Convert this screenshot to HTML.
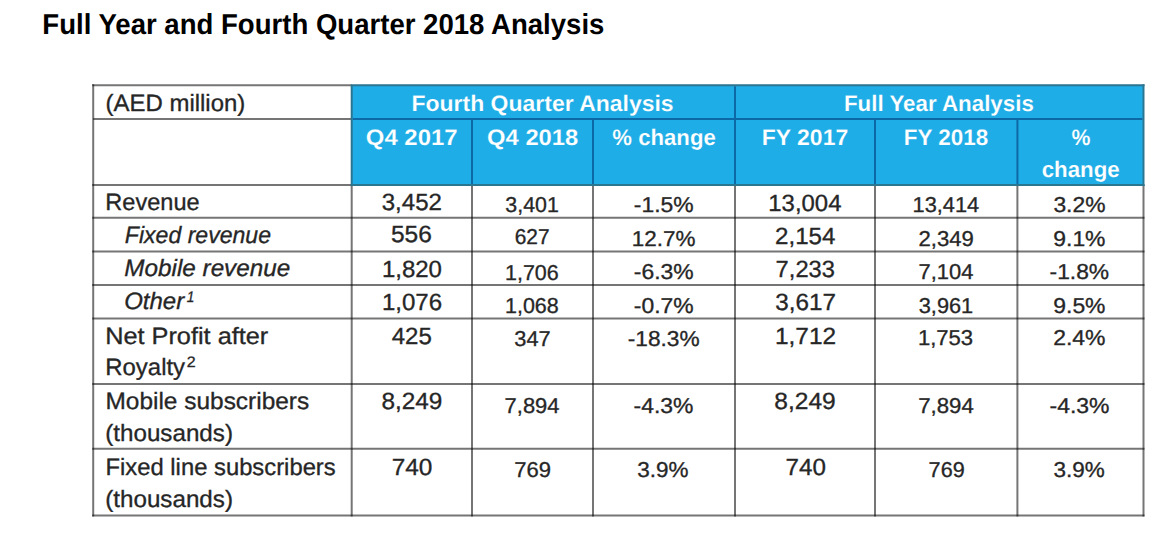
<!DOCTYPE html>
<html><head><meta charset="utf-8"><title>Full Year and Fourth Quarter 2018 Analysis</title>
<style>html,body{margin:0;padding:0;background:#fff;width:1172px;height:546px;overflow:hidden}svg{display:block}</style>
</head><body>
<svg width="1172" height="546" viewBox="0 0 1172 546" font-family="'Liberation Sans', Arial, sans-serif" text-rendering="geometricPrecision">
<rect width="1172" height="546" fill="#fff"/>
<rect x="351.7" y="85.3" width="791.8" height="99.7" fill="#1eade7"/>
<defs><filter id="soft" x="-5%" y="-5%" width="110%" height="110%"><feGaussianBlur stdDeviation="0.55"/></filter></defs>
<g filter="url(#soft)"><line x1="92.2" y1="85.3" x2="351.7" y2="85.3" stroke="rgba(0,0,0,0.54)" stroke-width="2"/>
<line x1="93.2" y1="119" x2="351.7" y2="119" stroke="rgba(0,0,0,0.54)" stroke-width="2"/>
<line x1="92.2" y1="217.8" x2="1144.5" y2="217.8" stroke="rgba(0,0,0,0.54)" stroke-width="2"/>
<line x1="92.2" y1="251.5" x2="1144.5" y2="251.5" stroke="rgba(0,0,0,0.54)" stroke-width="2"/>
<line x1="92.2" y1="284.9" x2="1144.5" y2="284.9" stroke="rgba(0,0,0,0.54)" stroke-width="2"/>
<line x1="92.2" y1="318.5" x2="1144.5" y2="318.5" stroke="rgba(0,0,0,0.54)" stroke-width="2"/>
<line x1="92.2" y1="384" x2="1144.5" y2="384" stroke="rgba(0,0,0,0.54)" stroke-width="2"/>
<line x1="92.2" y1="448.7" x2="1144.5" y2="448.7" stroke="rgba(0,0,0,0.54)" stroke-width="2"/>
<line x1="92.2" y1="515.5" x2="1144.5" y2="515.5" stroke="rgba(0,0,0,0.54)" stroke-width="2"/>
<line x1="92.2" y1="185" x2="351.7" y2="185" stroke="rgba(0,0,0,0.54)" stroke-width="2"/>
<line x1="93.2" y1="84.3" x2="93.2" y2="516.5" stroke="rgba(0,0,0,0.54)" stroke-width="2"/>
<line x1="351.7" y1="185" x2="351.7" y2="516.5" stroke="rgba(0,0,0,0.54)" stroke-width="2"/>
<line x1="472" y1="185" x2="472" y2="516.5" stroke="rgba(0,0,0,0.54)" stroke-width="2"/>
<line x1="593" y1="185" x2="593" y2="516.5" stroke="rgba(0,0,0,0.54)" stroke-width="2"/>
<line x1="735" y1="185" x2="735" y2="516.5" stroke="rgba(0,0,0,0.54)" stroke-width="2"/>
<line x1="875" y1="185" x2="875" y2="516.5" stroke="rgba(0,0,0,0.54)" stroke-width="2"/>
<line x1="1017.4" y1="185" x2="1017.4" y2="516.5" stroke="rgba(0,0,0,0.54)" stroke-width="2"/>
<line x1="1143.5" y1="185" x2="1143.5" y2="516.5" stroke="rgba(0,0,0,0.54)" stroke-width="2"/>
<line x1="352.7" y1="119" x2="1142.5" y2="119" stroke="#0f68a6" stroke-width="2"/>
<line x1="472" y1="119" x2="472" y2="184" stroke="#0f68a6" stroke-width="2"/>
<line x1="593" y1="119" x2="593" y2="184" stroke="#0f68a6" stroke-width="2"/>
<line x1="875" y1="119" x2="875" y2="184" stroke="#0f68a6" stroke-width="2"/>
<line x1="1017.4" y1="119" x2="1017.4" y2="184" stroke="#0f68a6" stroke-width="2"/>
<line x1="735" y1="86.3" x2="735" y2="184" stroke="#0f68a6" stroke-width="2"/>
<line x1="350.7" y1="85.3" x2="1144.5" y2="85.3" stroke="#2c7490" stroke-width="2"/>
<line x1="350.7" y1="185" x2="1144.5" y2="185" stroke="#2c7490" stroke-width="2"/>
<line x1="351.7" y1="85.3" x2="351.7" y2="185" stroke="#2c7490" stroke-width="2"/>
<line x1="1143.5" y1="84.3" x2="1143.5" y2="186" stroke="#2c7490" stroke-width="2"/></g>
<text transform="translate(42.31 33.80) scale(0.956 1)" font-size="28.84" fill="#000" font-weight="bold">Full Year and Fourth Quarter 2018 Analysis</text>
<text transform="translate(411.51 111.00) scale(1.026 1)" font-size="22.40" fill="#ffffff" font-weight="bold" stroke="#1eade7" stroke-width="0.15">Fourth Quarter Analysis</text>
<text transform="translate(843.95 111.00) scale(0.997 1)" font-size="22.40" fill="#ffffff" font-weight="bold" stroke="#1eade7" stroke-width="0.15">Full Year Analysis</text>
<text transform="translate(365.84 145.00) scale(1.067 1)" font-size="22.40" fill="#ffffff" font-weight="bold" stroke="#1eade7" stroke-width="0.15">Q4 2017</text>
<text transform="translate(487.05 145.00) scale(1.062 1)" font-size="22.40" fill="#ffffff" font-weight="bold" stroke="#1eade7" stroke-width="0.15">Q4 2018</text>
<text transform="translate(612.35 145.00) scale(0.989 1)" font-size="22.40" fill="#ffffff" font-weight="bold" stroke="#1eade7" stroke-width="0.15">% change</text>
<text transform="translate(761.81 145.00) scale(1.025 1)" font-size="22.40" fill="#ffffff" font-weight="bold" stroke="#1eade7" stroke-width="0.15">FY 2017</text>
<text transform="translate(903.84 145.00) scale(1.002 1)" font-size="22.40" fill="#ffffff" font-weight="bold" stroke="#1eade7" stroke-width="0.15">FY 2018</text>
<text transform="translate(1071.57 145.00) scale(0.951 1)" font-size="22.40" fill="#ffffff" font-weight="bold" stroke="#1eade7" stroke-width="0.15">%</text>
<text transform="translate(1041.71 177.00) scale(0.995 1)" font-size="22.40" fill="#ffffff" font-weight="bold" stroke="#1eade7" stroke-width="0.15">change</text>
<text transform="translate(105.56 111.30) scale(1.015 1)" font-size="23.60" fill="#262626" stroke="#262626" stroke-width="0.32">(AED million)</text>
<text transform="translate(105.32 210.20) scale(0.998 1)" font-size="23.60" fill="#262626" stroke="#262626" stroke-width="0.32">Revenue</text>
<text transform="translate(124.81 243.30) scale(0.978 1)" font-size="23.60" fill="#262626" font-style="italic" stroke="#262626" stroke-width="0.32">Fixed revenue</text>
<text transform="translate(124.37 276.20) scale(1.028 1)" font-size="23.60" fill="#262626" font-style="italic" stroke="#262626" stroke-width="0.32">Mobile revenue</text>
<text transform="translate(124.18 309.30) scale(1.017 1)" font-size="23.60" fill="#262626" font-style="italic" stroke="#262626" stroke-width="0.32">Other</text>
<text transform="translate(186.86 302.30) scale(0.892 1)" font-size="15.36" fill="#262626" font-style="italic" stroke="#262626" stroke-width="0.32">1</text>
<text transform="translate(105.18 343.70) scale(1.072 1)" font-size="23.60" fill="#262626" stroke="#262626" stroke-width="0.32">Net Profit after</text>
<text transform="translate(105.28 375.30) scale(1.014 1)" font-size="23.60" fill="#262626" stroke="#262626" stroke-width="0.32">Royalty</text>
<text transform="translate(186.80 367.30) scale(1.060 1)" font-size="15.14" fill="#262626" stroke="#262626" stroke-width="0.32">2</text>
<text transform="translate(105.44 408.50) scale(1.036 1)" font-size="23.60" fill="#262626" stroke="#262626" stroke-width="0.32">Mobile subscribers</text>
<text transform="translate(105.25 441.30) scale(1.025 1)" font-size="23.60" fill="#262626" stroke="#262626" stroke-width="0.32">(thousands)</text>
<text transform="translate(105.49 475.00) scale(1.009 1)" font-size="23.60" fill="#262626" stroke="#262626" stroke-width="0.32">Fixed line subscribers</text>
<text transform="translate(105.25 506.60) scale(1.025 1)" font-size="23.60" fill="#262626" stroke="#262626" stroke-width="0.32">(thousands)</text>
<text transform="translate(381.74 210.20) scale(1.028 1)" font-size="23.40" fill="#262626" stroke="#262626" stroke-width="0.32">3,452</text>
<text transform="translate(390.92 242.30) scale(1.049 1)" font-size="23.40" fill="#262626" stroke="#262626" stroke-width="0.32">556</text>
<text transform="translate(381.90 276.60) scale(1.026 1)" font-size="23.40" fill="#262626" stroke="#262626" stroke-width="0.32">1,820</text>
<text transform="translate(381.89 310.10) scale(1.029 1)" font-size="23.40" fill="#262626" stroke="#262626" stroke-width="0.32">1,076</text>
<text transform="translate(391.70 343.60) scale(1.028 1)" font-size="23.40" fill="#262626" stroke="#262626" stroke-width="0.32">425</text>
<text transform="translate(381.40 408.70) scale(1.041 1)" font-size="23.40" fill="#262626" stroke="#262626" stroke-width="0.32">8,249</text>
<text transform="translate(391.68 475.40) scale(1.044 1)" font-size="23.40" fill="#262626" stroke="#262626" stroke-width="0.32">740</text>
<text transform="translate(505.35 212.20) scale(0.989 1)" font-size="21.60" fill="#262626" stroke="#262626" stroke-width="0.32">3,401</text>
<text transform="translate(514.76 244.40) scale(0.967 1)" font-size="21.60" fill="#262626" stroke="#262626" stroke-width="0.32">627</text>
<text transform="translate(504.99 279.60) scale(0.994 1)" font-size="21.60" fill="#262626" stroke="#262626" stroke-width="0.32">1,706</text>
<text transform="translate(504.99 313.10) scale(0.994 1)" font-size="21.60" fill="#262626" stroke="#262626" stroke-width="0.32">1,068</text>
<text transform="translate(514.33 345.60) scale(1.008 1)" font-size="21.60" fill="#262626" stroke="#262626" stroke-width="0.32">347</text>
<text transform="translate(504.60 412.50) scale(1.016 1)" font-size="21.60" fill="#262626" stroke="#262626" stroke-width="0.32">7,894</text>
<text transform="translate(514.30 477.00) scale(1.020 1)" font-size="21.60" fill="#262626" stroke="#262626" stroke-width="0.32">769</text>
<text transform="translate(633.77 212.30) scale(1.061 1)" font-size="21.60" fill="#262626" stroke="#262626" stroke-width="0.32">-1.5%</text>
<text transform="translate(631.82 245.50) scale(1.040 1)" font-size="21.60" fill="#262626" stroke="#262626" stroke-width="0.32">12.7%</text>
<text transform="translate(633.77 278.50) scale(1.061 1)" font-size="21.60" fill="#262626" stroke="#262626" stroke-width="0.32">-6.3%</text>
<text transform="translate(633.77 312.60) scale(1.061 1)" font-size="21.60" fill="#262626" stroke="#262626" stroke-width="0.32">-0.7%</text>
<text transform="translate(627.78 345.80) scale(1.050 1)" font-size="21.60" fill="#262626" stroke="#262626" stroke-width="0.32">-18.3%</text>
<text transform="translate(633.57 412.50) scale(1.061 1)" font-size="21.60" fill="#262626" stroke="#262626" stroke-width="0.32">-4.3%</text>
<text transform="translate(637.30 477.10) scale(1.041 1)" font-size="21.60" fill="#262626" stroke="#262626" stroke-width="0.32">3.9%</text>
<text transform="translate(768.31 210.50) scale(1.022 1)" font-size="23.40" fill="#262626" stroke="#262626" stroke-width="0.32">13,004</text>
<text transform="translate(775.09 243.70) scale(1.031 1)" font-size="23.40" fill="#262626" stroke="#262626" stroke-width="0.32">2,154</text>
<text transform="translate(775.62 276.70) scale(1.013 1)" font-size="23.40" fill="#262626" stroke="#262626" stroke-width="0.32">7,233</text>
<text transform="translate(775.33 310.00) scale(1.037 1)" font-size="23.40" fill="#262626" stroke="#262626" stroke-width="0.32">3,617</text>
<text transform="translate(774.97 343.90) scale(1.044 1)" font-size="23.40" fill="#262626" stroke="#262626" stroke-width="0.32">1,712</text>
<text transform="translate(774.29 409.40) scale(1.050 1)" font-size="23.40" fill="#262626" stroke="#262626" stroke-width="0.32">8,249</text>
<text transform="translate(785.59 475.40) scale(1.033 1)" font-size="23.40" fill="#262626" stroke="#262626" stroke-width="0.32">740</text>
<text transform="translate(912.57 212.30) scale(1.009 1)" font-size="21.60" fill="#262626" stroke="#262626" stroke-width="0.32">13,414</text>
<text transform="translate(918.49 245.80) scale(1.024 1)" font-size="21.60" fill="#262626" stroke="#262626" stroke-width="0.32">2,349</text>
<text transform="translate(918.50 278.90) scale(1.016 1)" font-size="21.60" fill="#262626" stroke="#262626" stroke-width="0.32">7,104</text>
<text transform="translate(918.73 313.10) scale(1.008 1)" font-size="21.60" fill="#262626" stroke="#262626" stroke-width="0.32">3,961</text>
<text transform="translate(917.95 345.20) scale(1.021 1)" font-size="21.60" fill="#262626" stroke="#262626" stroke-width="0.32">1,753</text>
<text transform="translate(918.19 412.50) scale(1.029 1)" font-size="21.60" fill="#262626" stroke="#262626" stroke-width="0.32">7,894</text>
<text transform="translate(928.62 477.10) scale(1.000 1)" font-size="21.60" fill="#262626" stroke="#262626" stroke-width="0.32">769</text>
<text transform="translate(1053.39 212.30) scale(1.058 1)" font-size="21.60" fill="#262626" stroke="#262626" stroke-width="0.32">3.2%</text>
<text transform="translate(1053.27 245.80) scale(1.061 1)" font-size="21.60" fill="#262626" stroke="#262626" stroke-width="0.32">9.1%</text>
<text transform="translate(1049.57 278.80) scale(1.056 1)" font-size="21.60" fill="#262626" stroke="#262626" stroke-width="0.32">-1.8%</text>
<text transform="translate(1053.27 313.10) scale(1.061 1)" font-size="21.60" fill="#262626" stroke="#262626" stroke-width="0.32">9.5%</text>
<text transform="translate(1053.15 345.20) scale(1.063 1)" font-size="21.60" fill="#262626" stroke="#262626" stroke-width="0.32">2.4%</text>
<text transform="translate(1049.57 412.50) scale(1.063 1)" font-size="21.60" fill="#262626" stroke="#262626" stroke-width="0.32">-4.3%</text>
<text transform="translate(1053.40 477.10) scale(1.041 1)" font-size="21.60" fill="#262626" stroke="#262626" stroke-width="0.32">3.9%</text>
</svg>
</body></html>
